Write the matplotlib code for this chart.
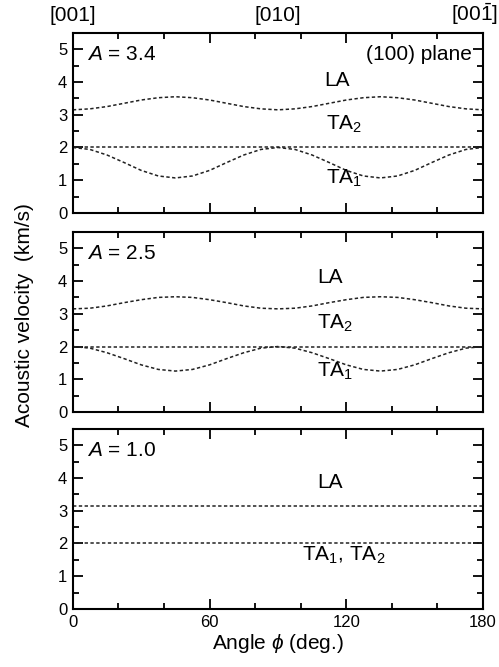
import numpy as np
import matplotlib
matplotlib.use("Agg")
import matplotlib.pyplot as plt
from matplotlib.ticker import MultipleLocator

plt.rcParams['font.family'] = ['Liberation Sans', 'DejaVu Sans']
plt.rcParams['mathtext.fontset'] = 'custom'
plt.rcParams['mathtext.rm'] = 'Liberation Sans'
plt.rcParams['mathtext.it'] = 'Liberation Sans:italic'

# kut phi (stupnjevi), ocitano svakih 7.5
kut = [0, 7.5, 15, 22.5, 30, 37.5, 45, 52.5, 60, 67.5, 75, 82.5, 90,
       97.5, 105, 112.5, 120, 127.5, 135, 142.5, 150, 157.5, 165, 172.5, 180]

# A = 3.4
la_34 = [3.15, 3.18, 3.25, 3.35, 3.45, 3.52, 3.55, 3.52, 3.45, 3.35, 3.25, 3.18, 3.15,
         3.18, 3.25, 3.35, 3.45, 3.52, 3.55, 3.52, 3.45, 3.35, 3.25, 3.18, 3.15]
ta2_34 = [2.0] * 25
ta1_34 = [2.00, 1.94, 1.77, 1.54, 1.30, 1.13, 1.07, 1.13, 1.30, 1.54, 1.77, 1.94, 2.00,
          1.94, 1.77, 1.54, 1.30, 1.13, 1.07, 1.13, 1.30, 1.54, 1.77, 1.94, 2.00]

# A = 2.5
la_25 = [3.15, 3.17, 3.24, 3.34, 3.43, 3.50, 3.52, 3.50, 3.43, 3.34, 3.24, 3.17, 3.15,
         3.17, 3.24, 3.34, 3.43, 3.50, 3.52, 3.50, 3.43, 3.34, 3.24, 3.17, 3.15]
ta2_25 = [2.0] * 25
ta1_25 = [2.00, 1.95, 1.81, 1.63, 1.44, 1.30, 1.25, 1.30, 1.44, 1.63, 1.81, 1.95, 2.00,
          1.95, 1.81, 1.63, 1.44, 1.30, 1.25, 1.30, 1.44, 1.63, 1.81, 1.95, 2.00]

# A = 1.0
la_10 = [3.15] * 25
ta_10 = [2.0] * 25

paneli = [
    ("3.4", [la_34, ta2_34, ta1_34]),
    ("2.5", [la_25, ta2_25, ta1_25]),
    ("1.0", [la_10, ta_10]),
]

fig = plt.figure(figsize=(4.99, 6.67), dpi=100)
lijevo, sirina = 0.146, 0.822
dna = [0.6807, 0.3823, 0.0870]
visina = 0.270
fs = 15

osi = []
for i, (A, krivulje) in enumerate(paneli):
    ax = fig.add_axes([lijevo, dna[i], sirina, visina])
    osi.append(ax)
    for v in krivulje:
        ax.plot(kut, v, color='#222222', lw=1.1, dashes=(2.2, 1.6))
    ax.set_xlim(0, 180)
    ax.set_ylim(0, 5.5)
    ax.xaxis.set_major_locator(MultipleLocator(60))
    ax.xaxis.set_minor_locator(MultipleLocator(20))
    ax.yaxis.set_major_locator(MultipleLocator(1))
    ax.yaxis.set_minor_locator(MultipleLocator(0.5))
    ax.tick_params(which='both', direction='in', top=True, right=True, width=1.3,
                   labelsize=12, pad=4)
    ax.tick_params(which='major', length=7)
    ax.tick_params(which='minor', length=4)
    for s in ax.spines.values():
        s.set_linewidth(1.5)
    if i < 2:
        ax.set_xticklabels([])
    ax.text(6, 4.85, "$A$ = " + A, fontsize=fs, va='center', ha='left')

# oznake modova
a1, a2, a3 = osi
a1.text(116, 4.05, "LA", fontsize=fs, ha='center', va='center')
a1.text(119, 2.7, "TA$_2$", fontsize=fs, ha='center', va='center')
a1.text(119, 1.05, "TA$_1$", fontsize=fs, ha='center', va='center')
a1.text(175, 4.85, "(100) plane", fontsize=fs, ha='right', va='center')

a2.text(113, 4.1, "LA", fontsize=fs, ha='center', va='center')
a2.text(115, 2.7, "TA$_2$", fontsize=fs, ha='center', va='center')
a2.text(115, 1.25, "TA$_1$", fontsize=fs, ha='center', va='center')

a3.text(113, 3.85, "LA", fontsize=fs, ha='center', va='center')
a3.text(119, 1.65, "TA$_1$, TA$_2$", fontsize=fs, ha='center', va='center')

# smjerovi na vrhu
a1.text(0, 5.87, "[001]", fontsize=fs, ha='center', va='baseline')
a1.text(90, 5.87, "[010]", fontsize=fs, ha='center', va='baseline')
a1.text(186.5, 5.87, r"[00$\bar{1}$]", fontsize=fs, ha='right', va='baseline')

a3.set_xticks([0, 60, 120, 180])
a3.set_xlabel(r"Angle $\phi$ (deg.)", fontsize=fs, labelpad=2)
fig.text(0.05, 0.528, "Acoustic velocity  (km/s)", rotation=90, fontsize=fs,
         ha='center', va='center')

fig.savefig("out.png", dpi=100)
